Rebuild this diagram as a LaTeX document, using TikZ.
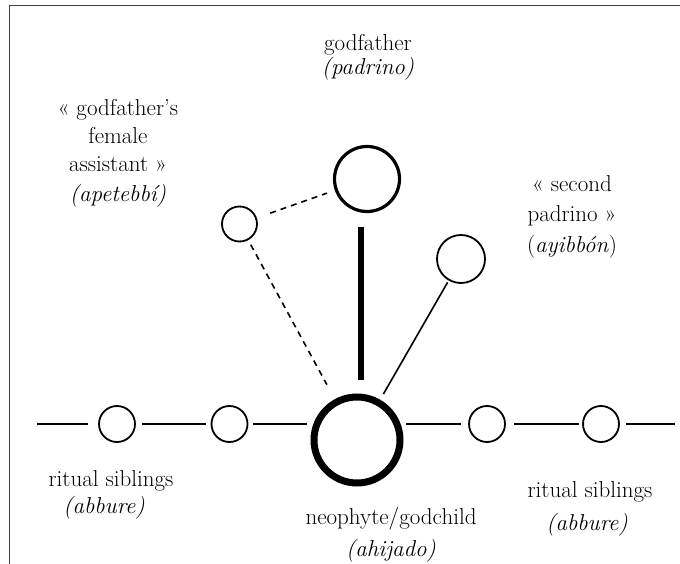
\documentclass[tikz,border=0pt]{standalone}
\usetikzlibrary{calc}
\begin{document}
\begin{tikzpicture}[x=1pt,y=-1pt,
  lbl/.style={font=\fontsize{23}{28}\selectfont, inner sep=0pt, anchor=base},
  person/.style={circle, draw, line width=1.8pt, inner sep=0pt, outer sep=0pt, minimum size=#1},
  tie/.style={line width=1.6pt},
  dashtie/.style={line width=1.6pt, dash pattern=on 6pt off 5pt},
  frame/.style={line width=1.5pt, black!75}]
\useasboundingbox (0,0) rectangle (680,564);
\draw[frame] (9.5,564) -- (9.5,5.5) -- (680,5.5);

% persons
\node[person=65pt, line width=3.2pt] (gf) at (367,179) {};
\node[person=86pt, line width=7pt] (ch) at (357,440) {};
\node[person=35pt] (ap) at (239.5,224) {};
\node[person=48pt] (ay) at (461,259) {};
\node[person=36pt] (s1) at (117,424) {};
\node[person=36pt] (s2) at (229.5,424) {};
\node[person=36pt] (s3) at (487,424) {};
\node[person=36pt] (s4) at (601,424) {};
\coordinate (L) at (37,424);
\coordinate (R) at (675,424);

% connectors
\draw[line width=6pt] ([xshift=3.5pt,yshift=17pt]ch.north) -- ([xshift=-6.5pt,yshift=-15.5pt]gf.south);
\draw[dashtie, shorten <=15pt, shorten >=10pt] (ap) -- (gf);
\draw[dashtie, shorten <=6pt, shorten >=20pt] (ap) -- (ch);
\draw[tie, shorten <=3pt, shorten >=10pt] (ay) -- (ch);
\draw[tie, shorten >=11pt] (L) -- (s1.west);
\draw[tie, shorten <=7pt, shorten >=6pt] (s1.east) -- (s2.west);
\draw[tie, shorten <=5pt, shorten >=7pt] (s2.east) -- (s2.east -| ch.west);
\draw[tie, shorten <=6pt, shorten >=8pt] (s3.west -| ch.east) -- (s3.west);
\draw[tie, shorten <=9pt, shorten >=4pt] (s3.east) -- (s4.west);
\draw[tie, shorten <=7pt] (s4.east) -- (R);

% labels
\node[lbl] (gf1) at (368,51) {godfather};
\node[lbl] (gf2) at (368,75) {\itshape(padrino)};
\node[lbl] (ap1) at (118,116) {« godfather’s};
\node[lbl] (ap2) at (118,144) {female};
\node[lbl] (ap3) at (118,172) {assistant »};
\node[lbl] (ap4) at (118,202) {\itshape(apetebbí)};
\node[lbl] (ay1) at (572,192) {« second};
\node[lbl] (ay2) at (572,222) {padrino »};
\node[lbl] (ay3) at (572,252) {(\textit{ayibbón})};
\node[lbl] (sl1) at (111,486) {ritual siblings};
\node[lbl] (sl2) at (104,513) {\itshape(abbure)};
\node[lbl] (sr1) at (590,497) {ritual siblings};
\node[lbl] (sr2) at (587,530) {\itshape(abbure)};
\node[lbl] (ch1) at (391,524) {neophyte/godchild};
\node[lbl] (ch2) at (391,556) {\itshape(ahijado)};
\end{tikzpicture}
\end{document}
